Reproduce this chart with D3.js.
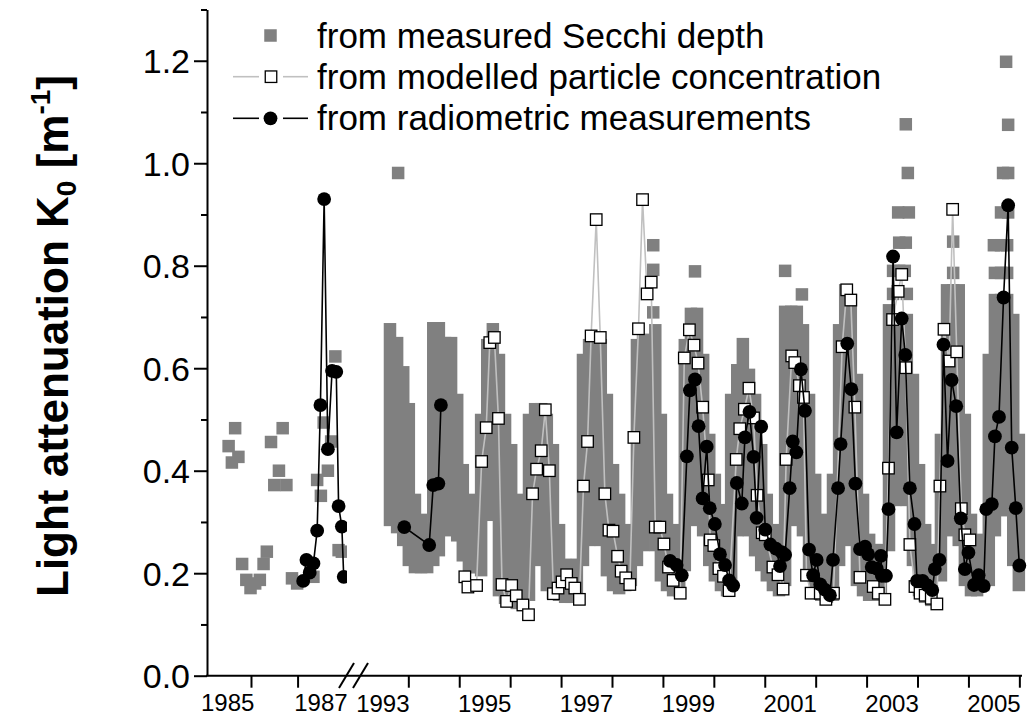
<!DOCTYPE html>
<html>
<head>
<meta charset="utf-8">
<script src="https://cdn.jsdelivr.net/npm/d3@7"></script>
<style>
  body { margin: 0; background: #fff; }
  svg { display: block; }
  text { font-family: Arial, "Liberation Sans", Helvetica, sans-serif; fill: #000; }
</style>
</head>
<body>
<div id="chart"></div>
<script>
// ---- data ---------------------------------------------------------------

// Secchi depth derived K0, 1985-1987 (year, value)
const secchiEarly = [
  [1985.52,0.448],[1985.59,0.416],[1985.66,0.483],[1985.73,0.427],[1985.81,0.218],
  [1985.90,0.187],[1985.99,0.171],[1986.09,0.180],[1986.19,0.187],[1986.27,0.218],
  [1986.34,0.242],[1986.43,0.456],[1986.50,0.372],[1986.60,0.400],[1986.68,0.483],
  [1986.76,0.372],[1986.88,0.190],[1986.99,0.180],[1987.34,0.193],[1987.42,0.382],
  [1987.50,0.351],[1987.56,0.494],[1987.65,0.400],[1987.72,0.457],[1987.81,0.623],
  [1987.88,0.245],[1987.95,0.242]
];

// Secchi depth derived K0, 1993-2005: dense runs (year, low, high)
const secchiBands = [
  [1993.64,0.304,0.676],[1993.78,0.290,0.649],[1993.90,0.265,0.592],[1994.01,0.226,0.520],
  [1994.13,0.212,0.343],[1994.25,0.212,0.304],[1994.37,0.212,0.284],
  [1994.49,0.226,0.678],[1994.60,0.245,0.678],[1994.72,0.284,0.649],[1994.84,0.304,0.649],
  [1994.96,0.274,0.538],[1995.07,0.235,0.401],[1995.19,0.212,0.343],[1995.31,0.212,0.284],
  [1995.43,0.206,0.499],[1995.55,0.314,0.645],[1995.66,0.323,0.676],[1995.78,0.167,0.616],
  [1995.90,0.152,0.499],[1996.02,0.148,0.440],[1996.13,0.142,0.343],[1996.25,0.142,0.245],
  [1996.37,0.158,0.499],[1996.49,0.226,0.520],[1996.61,0.265,0.520],[1996.72,0.177,0.499],
  [1996.84,0.161,0.440],[1996.96,0.158,0.284],[1997.08,0.154,0.216],[1997.20,0.154,0.216],
  [1997.31,0.158,0.216],
  [1997.43,0.226,0.616],[1997.55,0.265,0.645],[1997.67,0.304,0.645],[1997.78,0.265,0.645],
  [1997.90,0.206,0.538],[1998.02,0.177,0.401],[1998.14,0.171,0.343],[1998.26,0.177,0.284],
  [1998.37,0.187,0.255],
  [1998.49,0.226,0.645],[1998.61,0.255,0.655],[1998.73,0.304,0.655],[1998.85,0.255,0.674],
  [1998.96,0.196,0.499],[1999.08,0.177,0.343],[1999.20,0.167,0.284],[1999.32,0.167,0.235],
  [1999.43,0.216,0.645],[1999.55,0.304,0.706],[1999.67,0.323,0.706],[1999.79,0.284,0.616],
  [1999.91,0.226,0.460],[2000.02,0.196,0.382],[2000.14,0.177,0.323],[2000.26,0.167,0.265],
  [2000.34,0.177,0.538],[2000.46,0.284,0.596],[2000.57,0.304,0.647],[2000.69,0.284,0.587],
  [2000.81,0.245,0.538],[2000.93,0.216,0.440],[2001.04,0.196,0.343],[2001.16,0.177,0.284],
  [2001.28,0.167,0.255],
  [2001.40,0.187,0.710],[2001.52,0.304,0.710],[2001.63,0.343,0.710],[2001.75,0.284,0.674],
  [2001.87,0.206,0.538],[2001.99,0.167,0.382],[2002.11,0.158,0.304],[2002.22,0.154,0.255],
  [2002.34,0.158,0.382],[2002.46,0.226,0.674],[2002.58,0.304,0.752],[2002.69,0.265,0.733],
  [2002.81,0.187,0.577],[2002.93,0.167,0.343],[2003.05,0.158,0.265],[2003.17,0.158,0.245],
  [2003.28,0.167,0.245],
  [2003.44,0.255,0.713],[2003.56,0.343,0.694],[2003.68,0.382,0.694],[2003.79,0.343,0.694],
  [2003.91,0.226,0.577],[2004.03,0.167,0.401],[2004.15,0.154,0.284],[2004.27,0.148,0.245],
  [2004.46,0.196,0.460],[2004.58,0.284,0.752],[2004.70,0.304,0.752],[2004.81,0.265,0.752],
  [2004.93,0.187,0.499],[2005.05,0.167,0.304],[2005.17,0.167,0.245],[2005.29,0.177,0.265],
  [2005.40,0.187,0.616],[2005.52,0.284,0.733],[2005.64,0.343,0.733],[2005.76,0.323,0.733],
  [2005.88,0.226,0.694],[2005.99,0.177,0.460]
];

// Secchi depth derived K0, 1993-2005: separate high values (year, value)
const secchiSingles = [
  [1993.80,0.981],[1998.81,0.840],[1998.81,0.792],[1998.81,0.709],[1999.63,0.789],
  [2001.40,0.790],[2001.73,0.744],
  [2003.77,1.076],[2003.81,0.981],[2003.62,0.904],[2003.83,0.904],[2003.64,0.845],
  [2003.77,0.845],[2003.52,0.790],[2003.64,0.790],[2003.75,0.790],[2003.52,0.745],
  [2003.79,0.745],[2004.70,0.847],[2004.70,0.786],
  [2005.74,1.198],[2005.78,1.075],[2005.68,0.981],[2005.78,0.981],[2005.64,0.904],
  [2005.78,0.904],[2005.50,0.840],[2005.64,0.840],[2005.76,0.840],[2005.52,0.786],
  [2005.64,0.786],[2005.76,0.786]
];

// K0 from modelled particle concentration (year, value)
const modelled = [
  [1995.11,0.193],[1995.17,0.173],[1995.34,0.176],[1995.44,0.418],[1995.53,0.484],
  [1995.60,0.650],[1995.69,0.660],[1995.77,0.502],[1995.84,0.178],[1995.93,0.145],
  [1996.03,0.176],[1996.12,0.156],[1996.25,0.138],[1996.36,0.119],
  [1996.44,0.355],[1996.52,0.403],[1996.61,0.439],[1996.69,0.519],[1996.77,0.400],
  [1996.85,0.160],[1996.94,0.171],[1997.02,0.183],[1997.11,0.197],[1997.20,0.180],
  [1997.27,0.171],[1997.36,0.149],
  [1997.44,0.370],[1997.52,0.457],[1997.59,0.663],[1997.69,0.890],[1997.77,0.660],
  [1997.86,0.355],[1997.94,0.284],[1998.02,0.282],[1998.11,0.233],[1998.18,0.204],
  [1998.27,0.191],[1998.35,0.178],
  [1998.43,0.465],[1998.52,0.677],[1998.60,0.929],[1998.69,0.745],[1998.77,0.768],
  [1998.85,0.290],[1998.94,0.290],[1999.02,0.257],[1999.11,0.212],[1999.20,0.186],
  [1999.34,0.161],
  [1999.42,0.620],[1999.52,0.675],[1999.61,0.645],[1999.69,0.610],[1999.78,0.524],
  [1999.89,0.382],[1999.93,0.265],[2000.00,0.254],[2000.10,0.209],[2000.19,0.194],
  [2000.30,0.166],
  [2000.44,0.422],[2000.51,0.482],[2000.60,0.520],[2000.69,0.561],[2000.78,0.503],
  [2000.85,0.352],[2000.95,0.279],[2001.01,0.275],[2001.16,0.212],[2001.26,0.197],
  [2001.36,0.169],
  [2001.42,0.422],[2001.53,0.624],[2001.59,0.611],[2001.68,0.566],[2001.76,0.543],
  [2001.82,0.196],[2001.91,0.161],[2002.09,0.161],[2002.20,0.149],[2002.35,0.161],
  [2002.52,0.642],[2002.61,0.753],[2002.69,0.733],[2002.77,0.524],[2002.87,0.192],
  [2003.13,0.174],[2003.23,0.161],[2003.36,0.149],
  [2003.43,0.405],[2003.51,0.695],[2003.62,0.750],[2003.69,0.783],[2003.77,0.601],
  [2003.85,0.256],[2003.95,0.174],[2004.05,0.161],[2004.15,0.157],[2004.27,0.151],
  [2004.38,0.140],
  [2004.44,0.370],[2004.52,0.676],[2004.62,0.614],[2004.69,0.910],[2004.77,0.632],
  [2004.86,0.326],[2004.93,0.275],[2005.03,0.265]
];

// K0 from radiometric measurements, 1987 (year, value)
const radioEarly = [
  [1987.12,0.185],[1987.19,0.226],[1987.26,0.201],[1987.34,0.219],[1987.42,0.283],
  [1987.49,0.528],[1987.57,0.930],[1987.65,0.442],[1987.74,0.595],[1987.83,0.593],
  [1987.88,0.331],[1987.95,0.291],[1987.99,0.193]
];

// K0 from radiometric measurements, 1993-2005 (year, value)
const radioLate = [
  [1993.92,0.290],[1994.41,0.255],[1994.49,0.372],[1994.59,0.375],[1994.64,0.528],
  [1999.14,0.224],[1999.27,0.216],[1999.37,0.196],[1999.47,0.428],[1999.53,0.557],
  [1999.63,0.578],[1999.70,0.487],[1999.78,0.346],[1999.86,0.447],[1999.92,0.327],
  [2000.02,0.296],[2000.12,0.237],[2000.22,0.216],[2000.30,0.186],[2000.38,0.176],
  [2000.45,0.376],[2000.55,0.336],[2000.61,0.465],[2000.70,0.515],[2000.78,0.427],
  [2000.84,0.308],[2000.93,0.486],[2001.01,0.285],[2001.11,0.256],[2001.22,0.248],
  [2001.30,0.214],[2001.33,0.241],[2001.40,0.236],[2001.49,0.366],[2001.55,0.457],
  [2001.62,0.436],[2001.71,0.598],[2001.79,0.517],[2001.87,0.246],[2001.95,0.196],
  [2002.02,0.226],[2002.09,0.178],[2002.18,0.168],[2002.28,0.157],[2002.34,0.226],
  [2002.44,0.366],[2002.49,0.452],[2002.62,0.648],[2002.70,0.559],[2002.78,0.375],
  [2002.87,0.247],[2002.97,0.252],[2003.03,0.237],[2003.10,0.212],[2003.20,0.209],
  [2003.28,0.234],[2003.30,0.195],[2003.38,0.195],[2003.43,0.325],[2003.52,0.818],
  [2003.59,0.475],[2003.69,0.697],[2003.76,0.626],[2003.85,0.366],[2003.94,0.296],
  [2003.99,0.185],[2004.10,0.185],[2004.20,0.176],[2004.29,0.167],[2004.34,0.208],
  [2004.43,0.226],[2004.51,0.646],[2004.59,0.419],[2004.67,0.577],[2004.76,0.526],
  [2004.85,0.307],[2004.93,0.208],[2005.00,0.240],[2005.11,0.177],[2005.20,0.196],
  [2005.30,0.175],[2005.35,0.325],[2005.46,0.335],[2005.52,0.467],[2005.60,0.505],
  [2005.69,0.738],[2005.78,0.918],[2005.85,0.445],[2005.93,0.327],[2006.00,0.215]
];

const yMajor = [0, 0.2, 0.4, 0.6, 0.8, 1.0, 1.2];
const yMinor = [0.1, 0.3, 0.5, 0.7, 0.9, 1.1, 1.3];
const xTicksEarly = [1986, 1987];
const xTicksLate = [1994, 1995, 1996, 1997, 1998, 1999, 2000, 2001, 2002, 2003, 2004, 2005, 2006];
const yearLabelsEarly = [1985, 1987];
const yearLabelsLate = [1993, 1995, 1997, 1999, 2001, 2003, 2005];
const legendLabels = [
  'from measured Secchi depth',
  'from modelled particle concentration',
  'from radiometric measurements'
];

// ---- chart ---------------------------------------------------------------

const width = 1029, height = 721;
const SQ = 12.5;      // Secchi square size
const OSQ = 11.5;     // open square size
const R = 6.9;        // circle radius
const grey = '#808080', lightGrey = '#c0c0c0';

const svg = d3.select('#chart').append('svg')
  .attr('width', width)
  .attr('height', height);

svg.append('rect').attr('width', width).attr('height', height).attr('fill', '#fff');

const y = d3.scaleLinear().domain([0, 1.3]).range([675.7, 9.5]);
// broken x axis: two linear pieces
const xA = d3.scaleLinear().domain([1985.056, 1988.039]).range([207, 346]);
const xB = d3.scaleLinear().domain([1992.894, 2006.052]).range([352, 1022]);

svg.append('defs').append('clipPath').attr('id', 'clipA')
  .append('rect').attr('x', 207).attr('y', 0).attr('width', 140).attr('height', 676);

const gA = svg.append('g').attr('clip-path', 'url(#clipA)');
const gB = svg.append('g');

// split a series where the time gap is large
function runs(data, gap) {
  const out = [];
  let cur = [];
  data.forEach((d, i) => {
    if (i > 0 && d[0] - data[i - 1][0] > gap) { out.push(cur); cur = []; }
    cur.push(d);
  });
  if (cur.length) out.push(cur);
  return out;
}

// Secchi squares
gA.selectAll('rect.secchi')
  .data(secchiEarly)
  .join('rect')
  .attr('class', 'secchi')
  .attr('x', d => xA(d[0]) - SQ / 2)
  .attr('y', d => y(d[1]) - SQ / 2)
  .attr('width', SQ).attr('height', SQ)
  .attr('fill', grey);

gB.selectAll('rect.band')
  .data(secchiBands)
  .join('rect')
  .attr('class', 'band')
  .attr('x', d => xB(d[0]) - SQ / 2)
  .attr('y', d => y(d[2]) - SQ / 2)
  .attr('width', SQ)
  .attr('height', d => y(d[1]) - y(d[2]) + SQ)
  .attr('fill', grey);

gB.selectAll('rect.single')
  .data(secchiSingles)
  .join('rect')
  .attr('class', 'single')
  .attr('x', d => xB(d[0]) - SQ / 2)
  .attr('y', d => y(d[1]) - SQ / 2)
  .attr('width', SQ).attr('height', SQ)
  .attr('fill', grey);

// modelled particle concentration
const lineB = d3.line().x(d => xB(d[0])).y(d => y(d[1]));
const lineA = d3.line().x(d => xA(d[0])).y(d => y(d[1]));

gB.append('path')
  .datum(modelled)
  .attr('d', lineB)
  .attr('fill', 'none')
  .attr('stroke', lightGrey)
  .attr('stroke-width', 1.6);

gB.selectAll('rect.model')
  .data(modelled)
  .join('rect')
  .attr('class', 'model')
  .attr('x', d => xB(d[0]) - OSQ / 2)
  .attr('y', d => y(d[1]) - OSQ / 2)
  .attr('width', OSQ).attr('height', OSQ)
  .attr('fill', '#fff')
  .attr('stroke', '#000')
  .attr('stroke-width', 1.3);

// radiometric
gA.append('path')
  .datum(radioEarly)
  .attr('d', lineA)
  .attr('fill', 'none')
  .attr('stroke', '#000')
  .attr('stroke-width', 1.6);

gA.selectAll('circle')
  .data(radioEarly)
  .join('circle')
  .attr('cx', d => xA(d[0]))
  .attr('cy', d => y(d[1]))
  .attr('r', R)
  .attr('fill', '#000');

gB.selectAll('path.radio')
  .data(runs(radioLate, 1))
  .join('path')
  .attr('class', 'radio')
  .attr('d', lineB)
  .attr('fill', 'none')
  .attr('stroke', '#000')
  .attr('stroke-width', 1.6);

gB.selectAll('circle')
  .data(radioLate)
  .join('circle')
  .attr('cx', d => xB(d[0]))
  .attr('cy', d => y(d[1]))
  .attr('r', R)
  .attr('fill', '#000');

// ---- axes ----------------------------------------------------------------

const yAxis = svg.append('g')
  .attr('transform', 'translate(207,0)')
  .call(d3.axisLeft(y)
    .tickValues(yMajor)
    .tickSize(13)
    .tickSizeOuter(0)
    .tickPadding(4)
    .tickFormat(d3.format('.1f')));
yAxis.selectAll('text').style('font-size', '34px').attr('dy', '0.36em');

svg.append('g')
  .attr('transform', 'translate(207,0)')
  .call(d3.axisLeft(y).tickValues(yMinor).tickSize(6).tickFormat(''))
  .select('.domain').remove();

svg.append('g')
  .attr('transform', 'translate(0,675.7)')
  .call(d3.axisBottom(xA).tickValues(xTicksEarly).tickSize(12).tickFormat(''))
  .select('.domain').remove();

svg.append('g')
  .attr('transform', 'translate(0,675.7)')
  .call(d3.axisBottom(xB).tickValues(xTicksLate).tickSize(12).tickFormat(''))
  .select('.domain').remove();

svg.selectAll('.tick line').attr('stroke-width', 2);
yAxis.select('.domain').attr('stroke-width', 2);

// continuous bottom axis line with break marks
svg.append('line')
  .attr('x1', 206).attr('x2', 1022)
  .attr('y1', 675.7).attr('y2', 675.7)
  .attr('stroke', '#000').attr('stroke-width', 2);

[[339, 354], [353, 368]].forEach(([a, b]) => {
  svg.append('line')
    .attr('x1', a).attr('y1', 688).attr('x2', b).attr('y2', 663)
    .attr('stroke', '#000').attr('stroke-width', 2);
});

// year labels centred on the year
svg.append('g').selectAll('text')
  .data(yearLabelsEarly)
  .join('text')
  .attr('x', d => xA(d + 0.5))
  .attr('y', 711)
  .attr('text-anchor', 'middle')
  .style('font-size', '24px')
  .text(d => d);

svg.append('g').selectAll('text')
  .data(yearLabelsLate)
  .join('text')
  .attr('x', d => xB(d + 0.5))
  .attr('y', 712)
  .attr('text-anchor', 'middle')
  .style('font-size', '24px')
  .text(d => d);

// y axis title
const title = svg.append('text')
  .attr('transform', 'translate(68,336) rotate(-90)')
  .attr('text-anchor', 'middle')
  .style('font-size', '44px')
  .style('font-weight', 'bold');
title.append('tspan').text('Light attenuation K');
title.append('tspan').attr('dy', 8).style('font-size', '28px').text('0');
title.append('tspan').attr('dy', -8).text(' [m');
title.append('tspan').attr('dy', -18).style('font-size', '28px').text('-1');
title.append('tspan').attr('dy', 18).text(']');

// ---- legend --------------------------------------------------------------

const legend = svg.append('g');
const rowY = [35.5, 76.7, 118.3];

legend.append('rect')
  .attr('x', 270.5 - SQ / 2).attr('y', rowY[0] - SQ / 2)
  .attr('width', SQ).attr('height', SQ).attr('fill', grey);

[[233, 259], [283, 308]].forEach(([a, b]) => {
  legend.append('line').attr('x1', a).attr('x2', b).attr('y1', rowY[1]).attr('y2', rowY[1])
    .attr('stroke', lightGrey).attr('stroke-width', 1.6);
  legend.append('line').attr('x1', a).attr('x2', b).attr('y1', rowY[2]).attr('y2', rowY[2])
    .attr('stroke', '#000').attr('stroke-width', 1.6);
});

legend.append('rect')
  .attr('x', 271 - OSQ / 2).attr('y', rowY[1] - OSQ / 2)
  .attr('width', OSQ).attr('height', OSQ)
  .attr('fill', '#fff').attr('stroke', '#000').attr('stroke-width', 1.3);

legend.append('circle')
  .attr('cx', 270.5).attr('cy', rowY[2]).attr('r', R).attr('fill', '#000');

legend.selectAll('text')
  .data(legendLabels)
  .join('text')
  .attr('x', 317)
  .attr('y', (d, i) => rowY[i] + 12)
  .style('font-size', '35px')
  .text(d => d);
</script>
</body>
</html>
